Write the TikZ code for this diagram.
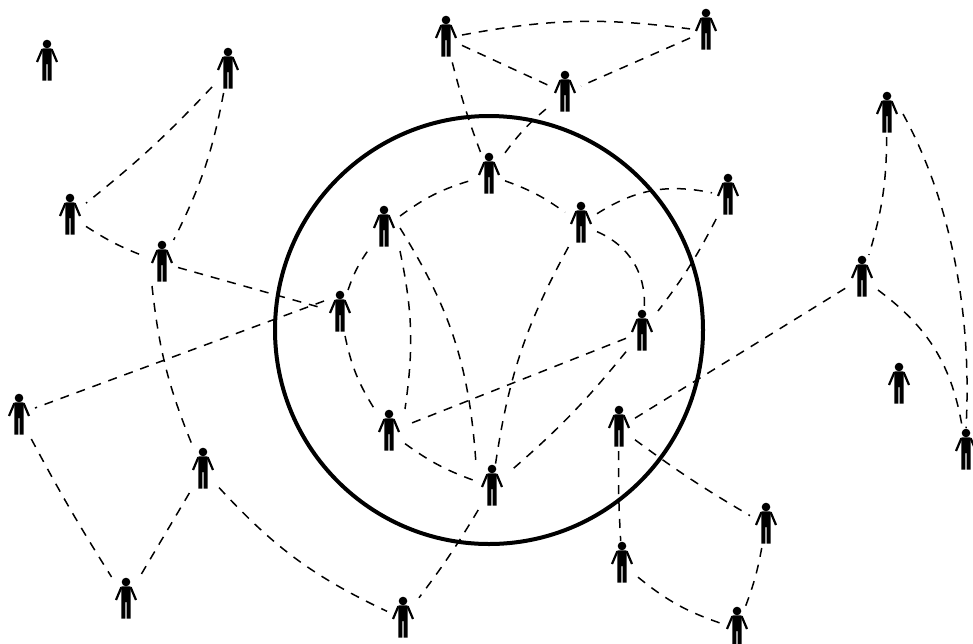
\documentclass[tikz,border=0pt]{standalone}
\tikzset{
  link/.style={dash pattern=on 9pt off 8pt,line width=1.5pt,black},
  ring/.style={line width=4pt},
  personbox/.style={rectangle,minimum width=32pt,minimum height=46pt,inner sep=0pt,outer sep=0pt}
}
\newcommand{\person}[3]{%
  \node[personbox] (#1) at (#2,#3+18) {};
  \begin{scope}[shift={(#2,#3)}]
    \fill (0,0) circle (4.3);
    \fill (-4.2,4.4) -- (4.2,4.4) -- (4.6,4.8) -- (4.6,36.5) -- (0.7,36.5) -- (0.7,20) -- (-0.7,20) -- (-0.7,36.5) -- (-4.6,36.5) -- (-4.6,4.8) -- cycle;
    \draw[line width=2.2pt] (-4.6,5.2) -- (-10,18);
    \draw[line width=2.2pt] (4.6,5.2) -- (10,18);
  \end{scope}}
\begin{document}
\begin{tikzpicture}[x=1pt,y=-1pt]
\useasboundingbox (0,0) rectangle (973,643);
\node[circle,draw,ring,minimum size=428pt,inner sep=0pt,outer sep=0pt] (bigring) at (489,330) {};
\person{pa}{47}{44}
\person{pb}{228}{52}
\person{pc}{70}{198}
\person{pd}{162}{245}
\person{pe}{340}{295}
\person{pf}{19}{398}
\person{pg}{203}{452}
\person{ph}{126}{582}
\person{pi}{403}{601}
\person{pj}{446}{20}
\person{pk}{706}{13}
\person{pl}{565}{75}
\person{pm}{489}{157}
\person{pn}{384}{210}
\person{po}{581}{206}
\person{pp}{728}{178}
\person{pq}{642}{314}
\person{pr}{389}{414}
\person{ps}{492}{469}
\person{pt}{619}{410}
\person{pu}{766}{507}
\person{pv}{622}{546}
\person{pw}{737}{611}
\person{px}{887}{96}
\person{py}{862}{260}
\person{pz}{899}{367}
\person{qa}{966}{433}
\begin{scope}[link]
\draw (pb) to[bend left=4] (pc);
\draw (pb) to[bend left=8] (pd);
\draw (pc) to[bend right=6] (pd);
\draw (pd) -- (pe);
\draw ([xshift=6pt]pd.south west) to[bend right=8] (pg);
\draw ([yshift=12pt]pe.west) -- ([yshift=8pt]pf.east);
\draw (pf) to[bend right=2] (ph);
\draw (pg) -- (ph);
\draw (pg) to[bend right=11] (pi);
\draw (pe) to[bend left=8] (pn);
\draw (pe) to[bend right=10] (pr);
\draw (pn) to[bend left=10] (pm);
\draw (pn.south east) to[bend left=10] (pr.north east);
\draw (pn.east) to[bend left=14] (ps.north west);
\draw (pm) to[bend left=8] (po);
\draw (pm) to[bend left=7] (pl);
\draw (pm) to[bend left=3] (pj);
\draw (pj) -- (pl);
\draw (pj) to[bend left=9] (pk);
\draw (pk) -- (pl);
\draw (po) to[bend left=22] (pp);
\draw (po) to[bend left=35] (pq);
\draw (po) to[bend right=10] (ps);
\draw (pp) to[bend left=5] (pq);
\draw (pq) -- (pr);
\draw (pq) to[bend left=5] (ps);
\draw (pr) to[bend right=8] (ps);
\draw (ps) to[bend left=3] (pi);
\draw (pt) -- (py);
\draw (pt) to[bend right=3] (pu);
\draw (pt) to[bend right=2] (pv);
\draw (pv) to[bend right=10] (pw);
\draw (pu) to[bend left=5] (pw);
\draw (px) to[bend left=8] (py);
\draw (px.east) .. controls (945,190) and (973,300) .. (qa.north);
\draw (py) to[bend left=22] (qa);
\end{scope}
\end{tikzpicture}
\end{document}
